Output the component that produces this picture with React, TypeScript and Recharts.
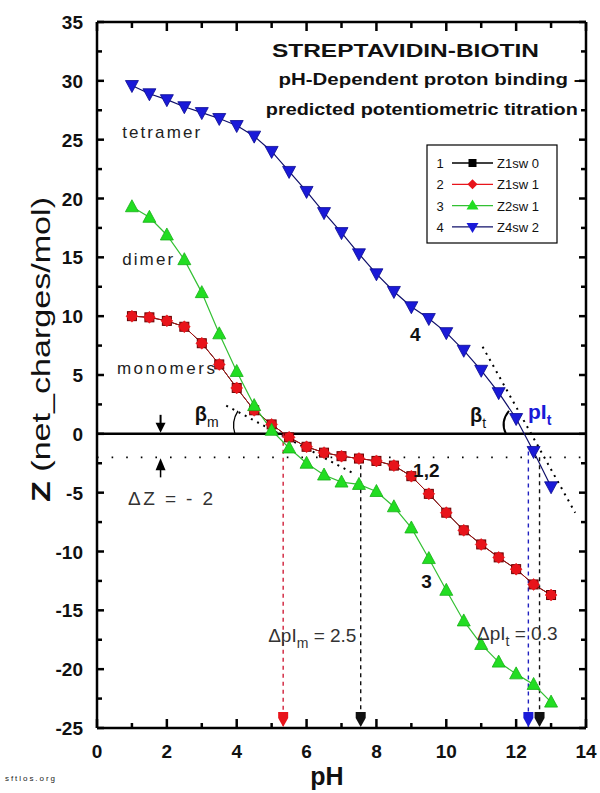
import React from 'react';
import { LineChart, Line, XAxis, YAxis, ReferenceLine, ReferenceDot } from 'recharts';

const phValues = [1, 1.5, 2, 2.5, 3, 3.5, 4, 4.5, 5, 5.5, 6, 6.5, 7, 7.5, 8, 8.5, 9, 9.5, 10, 10.5, 11, 11.5, 12, 12.5, 13];
const z1sw0 = [10.0, 9.9, 9.6, 9.1, 7.7, 5.9, 3.9, 2.0, 0.8, -0.3, -1.1, -1.6, -1.9, -2.1, -2.3, -2.7, -3.6, -5.1, -6.7, -8.2, -9.4, -10.5, -11.5, -12.8, -13.7];
const z1sw1 = [10.0, 9.9, 9.6, 9.1, 7.7, 5.9, 3.9, 2.0, 0.8, -0.3, -1.1, -1.6, -1.9, -2.1, -2.3, -2.7, -3.6, -5.1, -6.7, -8.2, -9.4, -10.5, -11.5, -12.8, -13.7];
const z2sw1 = [19.3, 18.4, 16.9, 14.8, 12.0, 8.5, 5.3, 2.4, 0.3, -1.2, -2.5, -3.5, -4.1, -4.3, -4.9, -6.2, -8.0, -10.6, -13.3, -15.9, -17.9, -19.4, -20.4, -21.3, -22.8];
const z4sw2 = [29.6, 28.9, 28.4, 27.8, 27.3, 26.8, 26.2, 25.3, 24.0, 22.3, 20.6, 18.8, 17.1, 15.3, 13.6, 12.1, 10.8, 9.8, 8.6, 7.1, 5.4, 3.5, 1.3, -1.5, -4.5];

const xTicks = [0, 1, 2, 3, 4, 5, 6, 7, 8, 9, 10, 11, 12, 13, 14];
const yTicks = [-25, -22.5, -20, -17.5, -15, -12.5, -10, -7.5, -5, -2.5, 0, 2.5, 5, 7.5, 10, 12.5, 15, 17.5, 20, 22.5, 25, 27.5, 30, 32.5, 35];

const legendCodes = ['1', '2', '3', '4'];
const legendNames = ['Z1sw 0', 'Z1sw 1', 'Z2sw 1', 'Z4sw 2'];

const pIm = 5.33;
const pIdimer = 7.55;
const pIt = 12.35;
const pItetraDZ = 12.67;
const deltaZ = -2;

const data = phValues.map((p, i) => ({
  pH: p,
  z1sw0: z1sw0[i],
  z1sw1: z1sw1[i],
  z2sw1: z2sw1[i],
  z4sw2: z4sw2[i],
}));

const FONT = '"Liberation Sans", Arial, Helvetica, sans-serif';

const RED = '#e8141b';
const GREEN = '#22dd22';
const GREEN_LINE = '#33c033';
const BLUE = '#1a1ad8';
const NAVY = '#10106a';

const squareDot = (props: any) => {
  const { cx, cy, index } = props;
  if (cx == null || cy == null) return <g key={index} />;
  return <rect key={index} x={cx - 4.5} y={cy - 4.5} width={9} height={9} fill={RED} stroke="#6a0000" strokeWidth={1} />;
};
const diamondDot = (props: any) => {
  const { cx, cy, index } = props;
  if (cx == null || cy == null) return <g key={index} />;
  return <polygon key={index} points={`${cx},${cy - 6} ${cx + 6},${cy} ${cx},${cy + 6} ${cx - 6},${cy}`} fill={RED} stroke={RED} strokeWidth={0.5} />;
};
const triUpDot = (props: any) => {
  const { cx, cy, index } = props;
  if (cx == null || cy == null) return <g key={index} />;
  return <polygon key={index} points={`${cx},${cy - 7} ${cx + 6.5},${cy + 5} ${cx - 6.5},${cy + 5}`} fill={GREEN} stroke="#18b018" strokeWidth={0.8} />;
};
const triDownDot = (props: any) => {
  const { cx, cy, index } = props;
  if (cx == null || cy == null) return <g key={index} />;
  return <polygon key={index} points={`${cx - 6.5},${cy - 5} ${cx + 6.5},${cy - 5} ${cx},${cy + 7}`} fill={BLUE} stroke="#0a0a90" strokeWidth={0.8} />;
};

const BottomTick = (props: any) => {
  const { x, y, payload } = props;
  const v = payload.value;
  const major = v % 2 === 0;
  return (
    <g>
      <line x1={x} x2={x} y1={y} y2={y - (major ? 9 : 5)} stroke="#000" strokeWidth={2.5} />
      {major && (
        <text x={x} y={y + 30} textAnchor="middle" fontSize={19} fontWeight="bold" fontFamily={FONT} fill="#111">
          {v}
        </text>
      )}
    </g>
  );
};
const TopTick = (props: any) => {
  const { x, y, payload } = props;
  const major = payload.value % 2 === 0;
  return <line x1={x} x2={x} y1={y} y2={y + (major ? 9 : 6)} stroke="#000" strokeWidth={2.5} />;
};
const LeftTick = (props: any) => {
  const { x, y, payload } = props;
  const v = payload.value;
  const major = v % 5 === 0;
  return (
    <g>
      <line x1={x} x2={x + (major ? 7 : 5)} y1={y} y2={y} stroke="#000" strokeWidth={2.5} />
      {major && (
        <text x={x - 14} y={y + 7} textAnchor="end" fontSize={19} fontWeight="bold" fontFamily={FONT} fill="#111">
          {v}
        </text>
      )}
    </g>
  );
};
const RightTick = (props: any) => {
  const { x, y, payload } = props;
  const major = payload.value % 5 === 0;
  return <line x1={x} x2={x - (major ? 7 : 5)} y1={y} y2={y} stroke="#000" strokeWidth={2.5} />;
};

const note = (key: string, x: number, y: number, render: (cx: number, cy: number) => React.ReactNode) => (
  <ReferenceDot
    key={key}
    x={x}
    y={y}
    r={0}
    ifOverflow="visible"
    isFront
    shape={(p: any) => <g>{render(p.cx, p.cy)}</g>}
  />
);

const downArrowHead = (color: string) => (cx: number, cy: number) => (
  <path d={`M${cx - 5},${cy - 16} L${cx + 5},${cy - 16} L${cx + 5},${cy - 10} L${cx},${cy - 1} L${cx - 5},${cy - 10} Z`} fill={color} />
);

export default function App() {
  return (
    <div style={{ width: 584, height: 777 }}>
      <div style={{ position: 'fixed', left: 0, top: 0, width: 600, height: 793, background: '#fff' }}>
        <LineChart width={600} height={793} data={data} margin={{ top: 20, right: 12, bottom: 35, left: 37 }}>
          <XAxis
            dataKey="pH"
            type="number"
            domain={[0, 14]}
            ticks={xTicks}
            interval={0}
            tickSize={0}
            tickMargin={0}
            tickLine={false}
            height={30}
            axisLine={{ stroke: '#000', strokeWidth: 2.5 }}
            tick={BottomTick}
            allowDataOverflow
          />
          <XAxis
            xAxisId="t"
            orientation="top"
            dataKey="pH"
            type="number"
            domain={[0, 14]}
            ticks={xTicks}
            interval={0}
            tickSize={0}
            tickMargin={0}
            tickLine={false}
            height={2}
            axisLine={{ stroke: '#000', strokeWidth: 2.5 }}
            tick={TopTick}
            allowDataOverflow
          />
          <YAxis
            type="number"
            domain={[-25, 35]}
            ticks={yTicks}
            interval={0}
            tickSize={0}
            tickMargin={0}
            tickLine={false}
            width={60}
            axisLine={{ stroke: '#000', strokeWidth: 2.5 }}
            tick={LeftTick}
            allowDataOverflow
          />
          <YAxis
            yAxisId="r"
            orientation="right"
            type="number"
            domain={[-25, 35]}
            ticks={yTicks}
            interval={0}
            tickSize={0}
            tickMargin={0}
            tickLine={false}
            width={2}
            axisLine={{ stroke: '#000', strokeWidth: 2.5 }}
            tick={RightTick}
            allowDataOverflow
          />

          <ReferenceLine y={0} stroke="#000" strokeWidth={2.5} />
          <ReferenceLine y={deltaZ} stroke="#000" strokeWidth={1.6} strokeDasharray="1.6 13" />
          <ReferenceLine segment={[{ x: 3.7, y: 2.4 }, { x: 7.3, y: -3.3 }]} stroke="#000" strokeWidth={2} strokeDasharray="2 5" />
          <ReferenceLine segment={[{ x: 11.04, y: 7.4 }, { x: 13.69, y: -6.7 }]} stroke="#000" strokeWidth={2} strokeDasharray="2 5" />
          <ReferenceLine segment={[{ x: pIm, y: 0 }, { x: pIm, y: -25 }]} stroke="#d0203a" strokeWidth={1.4} strokeDasharray="4 4" />
          <ReferenceLine segment={[{ x: pIdimer, y: deltaZ }, { x: pIdimer, y: -25 }]} stroke="#111" strokeWidth={1.4} strokeDasharray="4 4" />
          <ReferenceLine segment={[{ x: pIt, y: -1.5 }, { x: pIt, y: -25 }]} stroke="#2020c0" strokeWidth={1.4} strokeDasharray="4 4" />
          <ReferenceLine segment={[{ x: pItetraDZ, y: deltaZ }, { x: pItetraDZ, y: -25 }]} stroke="#111" strokeWidth={1.4} strokeDasharray="4 4" />

          <Line dataKey="z1sw0" stroke="#000" strokeWidth={1} dot={squareDot} isAnimationActive={false} />
          <Line dataKey="z1sw1" stroke="#b01010" strokeWidth={1} dot={diamondDot} isAnimationActive={false} />
          <Line dataKey="z2sw1" stroke={GREEN_LINE} strokeWidth={1.2} dot={triUpDot} isAnimationActive={false} />
          <Line dataKey="z4sw2" stroke={NAVY} strokeWidth={1.2} dot={triDownDot} isAnimationActive={false} />

          {note('arrR', pIm, -25, downArrowHead(RED))}
          {note('arrK1', pIdimer, -25, downArrowHead('#111'))}
          {note('arrB', pIt, -25, downArrowHead(BLUE))}
          {note('arrK2', pItetraDZ, -25, downArrowHead('#111'))}
          {note('dzDown', 1.82, 0, (cx, cy) => (
            <g>
              <line x1={cx} x2={cx} y1={cy - 19} y2={cy - 8} stroke="#000" strokeWidth={2} />
              <path d={`M${cx - 5},${cy - 11} L${cx + 5},${cy - 11} L${cx},${cy - 1} Z`} fill="#000" />
            </g>
          ))}
          {note('dzUp', 1.82, deltaZ, (cx, cy) => (
            <g>
              <path d={`M${cx},${cy + 1} L${cx + 5},${cy + 13} L${cx - 5},${cy + 13} Z`} fill="#000" />
              <line x1={cx} x2={cx} y1={cy + 12} y2={cy + 20} stroke="#000" strokeWidth={1.5} />
            </g>
          ))}
          {note('arcM', 3.95, 0, (cx, cy) => (
            <path d={`M${cx + 3},${cy - 23} Q${cx - 4},${cy - 12} ${cx},${cy}`} fill="none" stroke="#000" strokeWidth={1.3} />
          ))}
          {note('arcT', 11.68, 0, (cx, cy) => (
            <path d={`M${cx + 4},${cy - 23} Q${cx - 5},${cy - 12} ${cx + 1},${cy}`} fill="none" stroke="#000" strokeWidth={2} />
          ))}

          {note('title1', 8.83, 32.0, (cx, cy) => (
            <text x={cx} y={cy} textAnchor="middle" fontSize={19} fontWeight="bold" fontFamily={FONT} fill="#111" textLength={267} lengthAdjust="spacingAndGlyphs">
              STREPTAVIDIN-BIOTIN
            </text>
          ))}
          {note('title2', 9.52, 29.65, (cx, cy) => (
            <text x={cx} y={cy} textAnchor="middle" fontSize={16} fontWeight="bold" fontFamily={FONT} fill="#111" textLength={302} lengthAdjust="spacingAndGlyphs">
              pH-Dependent proton binding -
            </text>
          ))}
          {note('title3', 9.3, 27.1, (cx, cy) => (
            <text x={cx} y={cy} textAnchor="middle" fontSize={16} fontWeight="bold" fontFamily={FONT} fill="#111" textLength={312} lengthAdjust="spacingAndGlyphs">
              predicted potentiometric titration
            </text>
          ))}

          {note('tetramer', 0.72, 25.15, (cx, cy) => (
            <text x={cx} y={cy} fontSize={17} fontFamily={FONT} fill="#222" textLength={78}>tetramer</text>
          ))}
          {note('dimer', 0.72, 14.36, (cx, cy) => (
            <text x={cx} y={cy} fontSize={17} fontFamily={FONT} fill="#222" textLength={51}>dimer</text>
          ))}
          {note('monomers', 0.57, 5.1, (cx, cy) => (
            <text x={cx} y={cy} fontSize={17} fontFamily={FONT} fill="#222" textLength={98}>monomers</text>
          ))}
          {note('betam', 2.8, 1.1, (cx, cy) => (
            <text x={cx} y={cy} fontFamily={FONT} fill="#111">
              <tspan fontSize={20} fontWeight="bold">β</tspan>
              <tspan fontSize={14} dy={6}>m</tspan>
            </text>
          ))}
          {note('dz', 0.89, -6.03, (cx, cy) => (
            <text x={cx} y={cy} fontSize={19} fontFamily={FONT} fill="#333" textLength={85}>ΔZ = - 2</text>
          ))}
          {note('dpim', 4.9, -17.67, (cx, cy) => (
            <text x={cx} y={cy} fontFamily={FONT} fill="#333">
              <tspan fontSize={19}>ΔpI</tspan>
              <tspan fontSize={14} dy={6}>m</tspan>
              <tspan fontSize={19} dy={-6}>{' = 2.5'}</tspan>
            </text>
          ))}
          {note('dpit', 10.88, -17.5, (cx, cy) => (
            <text x={cx} y={cy} fontFamily={FONT} fill="#333">
              <tspan fontSize={19}>ΔpI</tspan>
              <tspan fontSize={14} dy={6}>t</tspan>
              <tspan fontSize={19} dy={-6}>{' = 0.3'}</tspan>
            </text>
          ))}
          {note('l12', 9.05, -3.65, (cx, cy) => (
            <text x={cx} y={cy} fontSize={19} fontWeight="bold" fontFamily={FONT} fill="#111">1,2</text>
          ))}
          {note('l3', 9.28, -13.08, (cx, cy) => (
            <text x={cx} y={cy} fontSize={19} fontWeight="bold" fontFamily={FONT} fill="#111">3</text>
          ))}
          {note('l4', 8.96, 7.9, (cx, cy) => (
            <text x={cx} y={cy} fontSize={19} fontWeight="bold" fontFamily={FONT} fill="#111">4</text>
          ))}
          {note('betat', 10.68, 1.02, (cx, cy) => (
            <text x={cx} y={cy} fontFamily={FONT} fill="#111">
              <tspan fontSize={20} fontWeight="bold">β</tspan>
              <tspan fontSize={14} dy={6}>t</tspan>
            </text>
          ))}
          {note('pit', 12.34, 1.27, (cx, cy) => (
            <text x={cx} y={cy} fontFamily={FONT} fill={BLUE} fontWeight="bold">
              <tspan fontSize={21}>pI</tspan>
              <tspan fontSize={14} dy={6}>t</tspan>
            </text>
          ))}
        </LineChart>

        <svg width={600} height={793} style={{ position: 'absolute', left: 0, top: 0, pointerEvents: 'none' }}>
          <text
            transform="translate(50,349.5) rotate(-90)"
            textAnchor="middle"
            fontSize={25}
            fontFamily={FONT}
            fill="#111"
            textLength={305}
            lengthAdjust="spacingAndGlyphs"
          >
            <tspan fontWeight="bold">Z</tspan>
            <tspan>{'  (net_charges/mol)'}</tspan>
          </text>
          <text x={327} y={785} textAnchor="middle" fontSize={25} fontWeight="bold" fontFamily={FONT} fill="#111">pH</text>
          <text x={5} y={781} fontSize={8} fontFamily={FONT} fill="#222" textLength={50}>sftlos.org</text>

          <g>
            <rect x={427} y={145} width={130} height={98} fill="#fff" stroke="#000" strokeWidth={1.2} />
            {legendCodes.map((code, i) => {
              const y = 163 + i * 21.3;
              const colors = ['#000', RED, GREEN, BLUE];
              const lineColors = ['#000', RED, GREEN_LINE, NAVY];
              const mx = 472.5;
              let marker: React.ReactNode = null;
              if (i === 0) marker = <rect x={mx - 4} y={y - 4} width={8} height={8} fill={colors[0]} />;
              if (i === 1) marker = <polygon points={`${mx},${y - 5} ${mx + 5},${y} ${mx},${y + 5} ${mx - 5},${y}`} fill={colors[1]} />;
              if (i === 2) marker = <polygon points={`${mx},${y - 6} ${mx + 6},${y + 4} ${mx - 6},${y + 4}`} fill={colors[2]} />;
              if (i === 3) marker = <polygon points={`${mx - 6},${y - 4} ${mx + 6},${y - 4} ${mx},${y + 6}`} fill={colors[3]} />;
              return (
                <g key={code}>
                  <text x={440} y={y + 5} textAnchor="middle" fontSize={13} fontFamily={FONT} fill="#111">{code}</text>
                  <line x1={452} x2={493} y1={y} y2={y} stroke={lineColors[i]} strokeWidth={1.3} />
                  {marker}
                  <text x={497} y={y + 5} fontSize={13} fontFamily={FONT} fill="#111">{legendNames[i]}</text>
                </g>
              );
            })}
          </g>
        </svg>
      </div>
    </div>
  );
}
